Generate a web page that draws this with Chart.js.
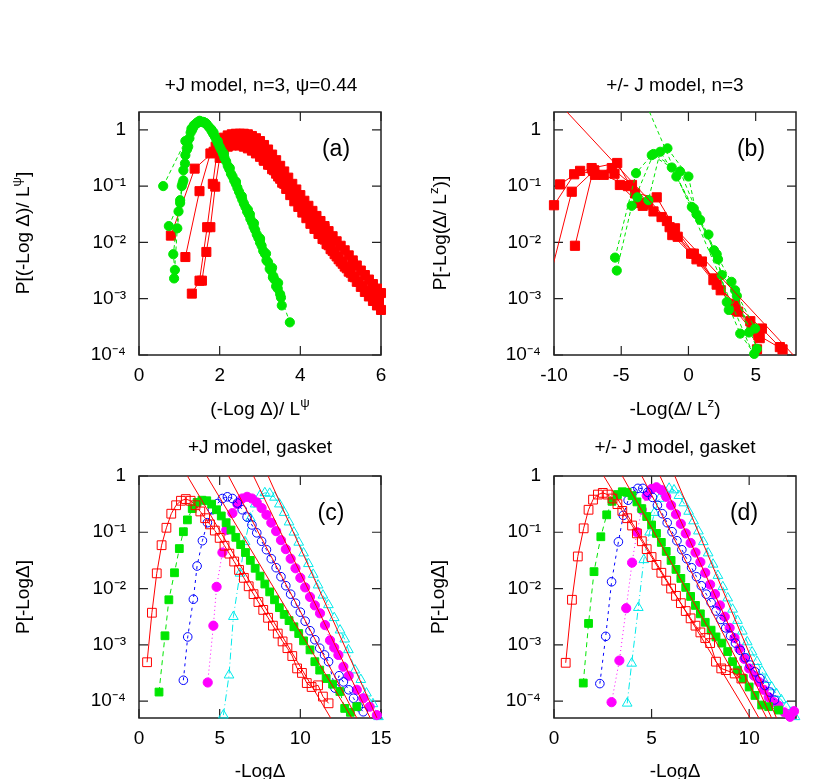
<!DOCTYPE html>
<html>
<head>
<meta charset="utf-8">
<script src="https://cdn.jsdelivr.net/npm/chart.js@4.4.1/dist/chart.umd.min.js"></script>
<style>
body { margin: 0; background: #fff; }
#wrap { position: relative; width: 830px; height: 779px; overflow: hidden; font-family: 'Liberation Sans', Arial, sans-serif; font-size: 19px; color: #000; }
canvas { position: absolute; left: 0; top: 0; }
.lb { position: absolute; white-space: nowrap; transform: translate(-50%, -50%); line-height: 1; }
.lb.yl { transform: translate(-50%, -50%) rotate(-90deg); }
.pn { font-size: 23px; }
sup { font-size: 70%; line-height: 0; }
</style>
</head>
<body>
<div id="wrap">
  <canvas id="ca" width="830" height="779"></canvas>
  <canvas id="cb" width="830" height="779"></canvas>
  <canvas id="cc" width="830" height="779"></canvas>
  <canvas id="cd" width="830" height="779"></canvas>

  <div class="lb" style="left:261px;top:84px">+J model, n=3, ψ=0.44</div>
  <div class="lb" style="left:675px;top:84px">+/- J model, n=3</div>
  <div class="lb" style="left:260px;top:446px">+J model, gasket</div>
  <div class="lb" style="left:675px;top:446px">+/- J model, gasket</div>

  <div class="lb yl" style="left:22px;top:233px">P[(-Log Δ)/ L<sup>ψ</sup>]</div>
  <div class="lb yl" style="left:439px;top:233px">P[-Log(Δ/ L<sup>z</sup>)]</div>
  <div class="lb yl" style="left:22px;top:597px">P[-LogΔ]</div>
  <div class="lb yl" style="left:437px;top:597px">P[-LogΔ]</div>

  <div class="lb" style="left:260px;top:408px">(-Log Δ)/ L<sup>ψ</sup></div>
  <div class="lb" style="left:675px;top:408px">-Log(Δ/ L<sup>z</sup>)</div>
  <div class="lb" style="left:260px;top:770px">-LogΔ</div>
  <div class="lb" style="left:675px;top:770px">-LogΔ</div>

  <div class="lb pn" style="left:336px;top:148px">(a)</div>
  <div class="lb pn" style="left:751px;top:148px">(b)</div>
  <div class="lb pn" style="left:331px;top:512px">(c)</div>
  <div class="lb pn" style="left:744px;top:512px">(d)</div>
</div>
<script>
// valori: [x, log10(P)]

// (a) +J model, n=3
const aGreen1 = [[0.6,-1.0],[1.15,-0.2],[1.3,0.02],[1.45,0.12],[1.6,0.13],[1.85,-0.05],[2.1,-0.42],[2.4,-0.92],[2.75,-1.5],[3.0,-1.95],[3.33,-2.6],[3.74,-3.42]];
const aGreen2 = [[0.74,-1.71],[1.02,-1.25],[1.06,-1.0],[1.1,-0.72],[1.15,-0.45],[1.2,-0.22],[1.28,-0.05],[1.36,0.08],[1.44,0.13],[1.52,0.15],[1.6,0.14],[1.68,0.1],[1.76,0.03],[1.84,-0.07],[1.92,-0.18],[2.0,-0.3],[2.08,-0.42],[2.16,-0.56],[2.24,-0.7],[2.32,-0.83],[2.4,-0.96],[2.48,-1.1],[2.56,-1.24],[2.64,-1.37],[2.72,-1.5],[2.8,-1.64],[2.88,-1.78],[2.96,-1.92],[3.04,-2.06],[3.12,-2.2],[3.2,-2.35],[3.28,-2.5],[3.36,-2.66],[3.44,-2.82],[3.52,-2.98]];
const aGreen3 = [[0.87,-2.64],[0.95,-1.75],[1.02,-1.3],[1.08,-0.95],[1.14,-0.6],[1.19,-0.35],[1.25,-0.15],[1.32,0.0],[1.4,0.1],[1.48,0.14],[1.56,0.14],[1.64,0.12],[1.72,0.06],[1.8,-0.02],[1.88,-0.12],[1.96,-0.24],[2.04,-0.36],[2.12,-0.5],[2.2,-0.64],[2.28,-0.78],[2.36,-0.9],[2.44,-1.03],[2.52,-1.17],[2.6,-1.31],[2.68,-1.45],[2.76,-1.58],[2.84,-1.72],[2.92,-1.86],[3.0,-2.0],[3.08,-2.15],[3.16,-2.32],[3.24,-2.47],[3.32,-2.62],[3.4,-2.78],[3.5,-2.92]];
const aGreen4 = [[0.89,-2.49],[0.85,-2.21],[0.98,-1.45],[1.1,-0.9],[1.22,-0.3],[1.35,0.05],[1.5,0.16],[1.65,0.12],[1.8,0.0],[1.95,-0.2],[2.1,-0.45],[2.25,-0.68],[2.4,-0.93],[2.55,-1.18],[2.7,-1.42],[2.85,-1.66],[3.0,-1.93],[3.15,-2.2],[3.3,-2.45],[3.45,-2.72],[3.54,-3.12]];
const aRed1 = [[0.79,-1.88],[1.38,-0.69],[1.85,-0.39],[2.35,-0.18],[3.09,-0.54],[3.58,-0.9],[4.1,-1.35],[4.6,-1.75],[5.3,-2.38],[5.8,-2.8],[5.95,-2.95]];
const aRed2 = [[1.15,-2.26],[1.5,-1.09],[1.77,-0.42],[1.9,-0.3],[2.0,-0.2],[2.1,-0.14],[2.2,-0.1],[2.3,-0.08],[2.4,-0.07],[2.5,-0.07],[2.6,-0.07],[2.7,-0.08],[2.8,-0.11],[2.9,-0.15],[3.0,-0.2],[3.1,-0.27],[3.2,-0.35],[3.3,-0.44],[3.4,-0.54],[3.5,-0.64],[3.6,-0.74],[3.7,-0.85],[3.8,-0.96],[3.9,-1.06],[4.0,-1.16],[4.1,-1.26],[4.2,-1.35],[4.3,-1.44],[4.4,-1.53],[4.5,-1.62],[4.6,-1.71],[4.7,-1.8],[4.8,-1.89],[4.9,-1.98],[5.0,-2.06],[5.1,-2.14],[5.2,-2.23],[5.3,-2.32],[5.4,-2.41],[5.5,-2.5],[5.6,-2.58],[5.7,-2.66],[5.8,-2.74],[5.9,-2.82],[6.0,-2.9]];
const aRed3 = [[1.31,-2.91],[1.5,-2.68],[1.69,-1.73],[1.83,-0.96],[1.95,-0.32],[2.05,-0.22],[2.15,-0.17],[2.25,-0.15],[2.35,-0.14],[2.45,-0.14],[2.55,-0.15],[2.65,-0.18],[2.75,-0.22],[2.85,-0.28],[2.95,-0.35],[3.05,-0.43],[3.15,-0.52],[3.25,-0.62],[3.35,-0.72],[3.45,-0.83],[3.55,-0.94],[3.65,-1.05],[3.75,-1.16],[3.85,-1.27],[3.95,-1.37],[4.05,-1.47],[4.15,-1.57],[4.25,-1.67],[4.35,-1.76],[4.45,-1.85],[4.55,-1.94],[4.65,-2.03],[4.75,-2.12],[4.85,-2.21],[4.95,-2.3],[5.05,-2.38],[5.15,-2.46],[5.25,-2.54],[5.35,-2.62],[5.45,-2.7],[5.55,-2.78],[5.65,-2.86],[5.75,-2.94],[5.85,-3.02],[5.95,-3.1]];
const aRed4 = [[1.56,-2.68],[1.67,-2.17],[1.77,-1.73],[1.89,-1.01],[2.0,-0.5],[2.1,-0.36],[2.2,-0.3],[2.3,-0.28],[2.4,-0.27],[2.5,-0.28],[2.6,-0.3],[2.7,-0.33],[2.8,-0.37],[2.9,-0.42],[3.0,-0.48],[3.1,-0.55],[3.2,-0.62],[3.3,-0.7],[3.4,-0.78],[3.5,-0.87],[3.6,-0.96],[3.7,-1.05],[3.8,-1.15],[3.9,-1.25],[4.0,-1.35],[4.1,-1.45],[4.2,-1.55],[4.3,-1.65],[4.4,-1.75],[4.5,-1.85],[4.6,-1.95],[4.7,-2.05],[4.8,-2.15],[4.9,-2.25],[5.0,-2.34],[5.1,-2.43],[5.2,-2.52],[5.3,-2.61],[5.4,-2.7],[5.5,-2.79],[5.6,-2.88],[5.7,-2.96],[5.8,-3.04],[5.9,-3.12],[6.0,-3.2]];

// (b) +/- J model, n=3
const bRed1 = [[-10,-1.34],[-8.5,-0.79],[-7.2,-0.68],[-5.3,-0.59],[-3.97,-1.13],[-2.36,-1.2],[-1.0,-1.75],[0.4,-2.2],[1.86,-2.67],[3.47,-3.09],[5.46,-3.53],[6.8,-3.86]];
const bRed2 = [[-9.55,-0.97],[-8.06,-0.73],[-6.95,-0.8],[-5.7,-0.68],[-4.2,-0.98],[-3.0,-1.3],[-1.6,-1.62],[-0.8,-1.9],[1.0,-2.34],[2.1,-2.75],[3.3,-3.15],[4.7,-3.56],[5.3,-3.7]];
const bRed3 = [[-10.6,-2.9],[-8.68,-1.1],[-7.0,-0.72],[-5.5,-0.78],[-5.1,-0.98],[-3.7,-1.3],[-2.0,-1.55],[-1.2,-1.87],[0.6,-2.3],[1.9,-2.64],[3.7,-3.23],[5.2,-3.65],[7.0,-3.9]];
const bRed4 = [[-8.44,-2.06],[-7.1,-0.73],[-6.3,-0.8],[-4.5,-1.0],[-3.4,-1.35],[-2.6,-1.45],[-1.4,-1.73],[0.2,-2.2],[2.4,-2.85],[3.5,-3.2],[4.6,-3.4],[5.1,-3.9]];
const bGreen1 = [[-5.46,-2.27],[-3.9,-0.77],[-2.73,-0.45],[-1.24,-0.67],[0.25,-1.37],[1.49,-1.86],[2.48,-2.58],[3.47,-2.85],[4.96,-3.53]];
const bGreen2 = [[-5.33,-2.5],[-4.22,-1.35],[-2.6,-0.43],[-0.62,-0.74],[0.87,-1.6],[2.1,-2.21],[2.85,-3.06],[3.85,-3.62],[4.89,-3.98]];
const bGreen3 = [[-3.8,-1.2],[-2.98,-1.25],[-2.1,-0.39],[-0.9,-0.83],[0.4,-1.4],[1.9,-2.14],[3.2,-2.7],[5.09,-3.89]];
const bGreen4 = [[-1.56,-0.33],[0,-0.83],[0.6,-1.5],[2.2,-2.3],[3.0,-3.2],[3.6,-2.95],[4.5,-3.6]];
const bRedFit = [[-9.05,0.32],[7.8,-4.0]];
const bGreenFit = [[-2.9,0.32],[4.84,-4.0]];

// (c) +J model, gasket
const cRed = [[0.5,-3.31],[0.8,-2.43],[1.1,-1.73],[1.4,-1.23],[1.7,-0.92],[2.0,-0.67],[2.3,-0.52],[2.6,-0.44],[2.9,-0.41],[3.2,-0.44],[3.5,-0.52],[3.8,-0.63],[4.1,-0.75],[4.4,-0.86],[4.7,-0.97],[5.0,-1.1],[5.3,-1.24],[5.6,-1.38],[5.9,-1.52],[6.2,-1.67],[6.5,-1.81],[6.8,-1.96],[7.1,-2.1],[7.4,-2.24],[7.7,-2.38],[8.0,-2.52],[8.3,-2.66],[8.6,-2.8],[8.9,-2.94],[9.2,-3.06],[9.5,-3.2],[9.8,-3.42],[10.1,-3.5],[10.4,-3.68],[10.7,-3.75],[11.1,-3.72],[11.4,-3.92],[11.75,-4.04]];
const cGreen = [[1.24,-3.84],[1.61,-2.84],[1.85,-2.2],[2.2,-1.72],[2.5,-1.29],[2.75,-0.99],[3.0,-0.78],[3.3,-0.58],[3.6,-0.47],[3.9,-0.43],[4.2,-0.44],[4.5,-0.5],[4.8,-0.6],[5.1,-0.71],[5.4,-0.83],[5.7,-0.96],[6.0,-1.09],[6.3,-1.22],[6.6,-1.36],[6.9,-1.5],[7.2,-1.64],[7.5,-1.78],[7.8,-1.92],[8.1,-2.06],[8.4,-2.2],[8.7,-2.34],[9.0,-2.46],[9.3,-2.57],[9.6,-2.68],[9.9,-2.8],[10.2,-2.93],[10.6,-3.09],[10.9,-3.3],[11.2,-3.45],[11.6,-3.6],[12.0,-3.7],[12.45,-3.83],[12.75,-4.13],[13.1,-4.2],[13.5,-4.1]];
const cBlue = [[2.75,-3.63],[3.02,-2.86],[3.37,-2.19],[3.6,-1.6],[3.93,-1.15],[4.24,-0.83],[4.55,-0.6],[4.86,-0.49],[5.17,-0.4],[5.48,-0.37],[5.79,-0.4],[6.1,-0.48],[6.4,-0.6],[6.7,-0.73],[7.0,-0.87],[7.3,-1.01],[7.6,-1.16],[7.9,-1.31],[8.2,-1.47],[8.5,-1.63],[8.8,-1.79],[9.1,-1.95],[9.4,-2.1],[9.7,-2.26],[10.0,-2.42],[10.3,-2.58],[10.6,-2.75],[10.9,-2.91],[11.2,-3.06],[11.5,-3.18],[11.75,-3.3],[12.15,-3.77],[12.4,-3.55],[12.67,-3.66],[13.0,-3.8],[13.3,-3.95],[13.6,-4.1],[13.9,-4.19]];
const cMagenta = [[4.26,-3.67],[4.61,-2.66],[4.81,-1.97],[5.17,-1.36],[5.41,-0.96],[5.79,-0.66],[6.1,-0.5],[6.4,-0.4],[6.7,-0.37],[7.0,-0.4],[7.3,-0.47],[7.6,-0.57],[7.9,-0.69],[8.2,-0.83],[8.5,-0.98],[8.8,-1.14],[9.1,-1.3],[9.4,-1.47],[9.7,-1.64],[10.0,-1.81],[10.3,-1.98],[10.6,-2.15],[10.9,-2.3],[11.22,-2.44],[11.53,-2.65],[11.84,-2.92],[12.1,-3.05],[12.36,-3.18],[12.67,-3.39],[13.0,-3.55],[13.5,-3.8],[13.9,-3.95],[14.3,-4.1],[14.74,-4.25]];
const cCyan = [[5.23,-4.25],[5.58,-3.54],[5.85,-2.5],[6.26,-1.73],[6.57,-1.17],[6.9,-0.75],[7.2,-0.5],[7.5,-0.35],[7.8,-0.3],[8.1,-0.31],[8.4,-0.38],[8.7,-0.5],[9.0,-0.65],[9.3,-0.82],[9.6,-1.0],[9.9,-1.18],[10.2,-1.37],[10.5,-1.56],[10.8,-1.75],[11.1,-1.94],[11.4,-2.12],[11.74,-2.29],[12.1,-2.52],[12.46,-2.74],[12.75,-2.9],[12.98,-3.09],[13.39,-3.45],[13.75,-3.62],[14.1,-3.86],[14.5,-4.05],[14.84,-4.28]];
const cFitTop = [3.0, 4.2, 5.55, 7.1, 8.0];
const cFitEnd = [11.88, 13.19, 13.5, 14.33, 14.75];

// (d) +/- J model, gasket
const dRed = [[0.6,-3.32],[0.92,-2.2],[1.22,-1.43],[1.52,-0.93],[1.77,-0.6],[2.0,-0.42],[2.25,-0.33],[2.5,-0.3],[2.75,-0.33],[3.0,-0.4],[3.25,-0.5],[3.5,-0.62],[3.75,-0.75],[4.0,-0.88],[4.25,-1.02],[4.5,-1.16],[4.75,-1.3],[5.0,-1.44],[5.25,-1.58],[5.5,-1.72],[5.75,-1.86],[6.0,-2.0],[6.25,-2.13],[6.5,-2.26],[6.75,-2.4],[7.0,-2.53],[7.25,-2.66],[7.5,-2.78],[7.75,-2.88],[8.0,-2.97],[8.3,-3.3],[8.57,-3.42],[8.8,-3.45],[9.26,-3.51],[9.6,-3.6]];
const dGreen = [[1.5,-3.68],[1.77,-2.62],[2.05,-1.7],[2.4,-1.08],[2.7,-0.69],[2.97,-0.45],[3.25,-0.33],[3.5,-0.28],[3.75,-0.29],[4.0,-0.35],[4.25,-0.46],[4.5,-0.58],[4.75,-0.72],[5.0,-0.87],[5.25,-1.02],[5.5,-1.18],[5.75,-1.34],[6.0,-1.5],[6.25,-1.66],[6.5,-1.82],[6.75,-1.98],[7.0,-2.14],[7.25,-2.3],[7.5,-2.45],[7.75,-2.6],[8.05,-2.74],[8.3,-2.86],[8.6,-2.97],[8.9,-3.12],[9.15,-3.3],[9.4,-3.45],[9.7,-3.6],[10.0,-3.75],[10.3,-3.9],[10.64,-4.07],[11.0,-4.1],[11.5,-4.16]];
const dBlue = [[2.35,-3.69],[2.65,-2.85],[2.95,-1.88],[3.3,-1.17],[3.55,-0.7],[3.8,-0.43],[4.05,-0.28],[4.3,-0.22],[4.55,-0.22],[4.8,-0.29],[5.05,-0.38],[5.3,-0.52],[5.55,-0.67],[5.8,-0.83],[6.05,-0.99],[6.3,-1.15],[6.55,-1.31],[6.8,-1.47],[7.05,-1.63],[7.3,-1.79],[7.55,-1.95],[7.8,-2.1],[8.05,-2.25],[8.3,-2.4],[8.55,-2.55],[8.8,-2.7],[9.05,-2.84],[9.3,-2.97],[9.55,-3.1],[9.8,-3.23],[10.05,-3.36],[10.3,-3.48],[10.55,-3.6],[10.8,-3.72],[11.05,-3.84],[11.3,-3.98]];
const dMagenta = [[2.95,-4.02],[3.35,-3.28],[3.7,-2.35],[4.0,-1.54],[4.25,-1.0],[4.5,-0.6],[4.75,-0.35],[5.0,-0.23],[5.25,-0.2],[5.5,-0.25],[5.75,-0.37],[6.0,-0.52],[6.25,-0.68],[6.5,-0.85],[6.75,-1.02],[7.0,-1.19],[7.25,-1.36],[7.5,-1.53],[7.75,-1.72],[8.0,-1.93],[8.25,-2.1],[8.5,-2.3],[8.75,-2.5],[9.0,-2.7],[9.25,-2.88],[9.5,-3.07],[9.75,-3.25],[10.0,-3.42],[10.25,-3.55],[10.5,-3.66],[10.75,-3.8],[11.0,-3.93],[11.25,-4.02],[11.5,-4.08],[11.8,-4.2],[12.1,-4.28],[12.3,-4.18]];
const dCyan = [[3.75,-4.04],[3.98,-3.33],[4.32,-2.34],[4.6,-1.49],[4.9,-1.0],[5.15,-0.65],[5.4,-0.4],[5.65,-0.27],[5.9,-0.22],[6.15,-0.25],[6.4,-0.35],[6.65,-0.48],[6.9,-0.63],[7.15,-0.8],[7.4,-0.98],[7.65,-1.17],[7.9,-1.37],[8.15,-1.57],[8.4,-1.77],[8.65,-1.97],[8.9,-2.17],[9.15,-2.37],[9.4,-2.57],[9.65,-2.76],[9.9,-2.95],[10.15,-3.13],[10.4,-3.3],[10.65,-3.47],[10.9,-3.62],[11.15,-3.75],[11.4,-3.87],[11.65,-3.98],[11.9,-4.1],[12.15,-4.2],[12.35,-4.28]];
const dFitTop = [2.55, 3.5, 4.5, 5.43, 6.19];
const dFitEnd = [10.05, 10.5, 10.9, 11.15, 11.4];

// assi
const xTicksA = [0, 2, 4, 6];
const xTicksB = [-10, -5, 0, 5];
const xTicksC = [0, 5, 10, 15];
const xTicksD = [0, 5, 10];
const yTicks = [1e-4, 1e-3, 1e-2, 1e-1, 1];

const W = 830, H = 779;
const RED = '#ff0000', GREEN = '#00e600', BLUE = '#0000ff', MAGENTA = '#ff00ff', CYAN = '#00eaea';

Chart.defaults.font.family = "'Liberation Sans', Arial, sans-serif";
Chart.defaults.font.size = 19;

const SUP = { '-': '⁻', '0': '⁰', '1': '¹', '2': '²', '3': '³', '4': '⁴', '5': '⁵' };
function expLabel(v) {
    const e = Math.round(Math.log10(v));
    if (e === 0) return '1';
    return '10' + String(e).split('').map(c => SUP[c]).join('');
}

const toPts = arr => arr.map(([x, lg]) => ({ x: x, y: Math.pow(10, lg) }));

function marks(arr, color, style, r, filled, dash, clip) {
    return {
        data: toPts(arr),
        borderColor: color,
        borderWidth: 1,
        borderDash: dash || [],
        pointStyle: style,
        pointRadius: r,
        pointHoverRadius: r,
        pointBackgroundColor: filled ? color : 'rgba(0,0,0,0)',
        pointBorderColor: color,
        pointBorderWidth: 1,
        tension: 0,
        fill: false,
        clip: clip === undefined ? 7 : clip
    };
}

function fitLine(arr, color, dash) {
    return {
        data: toPts(arr),
        borderColor: color,
        borderWidth: 1,
        borderDash: dash || [],
        pointRadius: 0,
        tension: 0,
        fill: false,
        clip: 0
    };
}

// cornice e tacche interne come in gnuplot
const frame = {
    id: 'frame',
    beforeDatasetsDraw(chart) {
        const { ctx, chartArea: a, scales: { x, y } } = chart;
        ctx.save();
        ctx.strokeStyle = '#222';
        ctx.lineWidth = 1.5;
        ctx.strokeRect(a.left, a.top, a.right - a.left, a.bottom - a.top);
        ctx.lineWidth = 1.2;
        ctx.beginPath();
        x.ticks.forEach(t => {
            const px = x.getPixelForValue(t.value);
            ctx.moveTo(px, a.bottom); ctx.lineTo(px, a.bottom - 9);
            ctx.moveTo(px, a.top); ctx.lineTo(px, a.top + 9);
        });
        y.ticks.forEach(t => {
            const py = y.getPixelForValue(t.value);
            ctx.moveTo(a.left, py); ctx.lineTo(a.left + 9, py);
            ctx.moveTo(a.right, py); ctx.lineTo(a.right - 9, py);
        });
        ctx.stroke();
        ctx.restore();
    }
};

function panel(id, box, xr, xt, yr, datasets) {
    new Chart(document.getElementById(id), {
        type: 'line',
        data: { datasets: datasets },
        options: {
            responsive: false,
            animation: false,
            devicePixelRatio: 1,
            layout: { padding: { left: box.l - 60, right: W - box.r, top: box.t, bottom: H - box.b - 40 } },
            plugins: { legend: { display: false }, tooltip: { enabled: false } },
            scales: {
                x: {
                    type: 'linear', min: xr[0], max: xr[1],
                    grid: { display: false, drawTicks: false }, border: { display: false },
                    afterBuildTicks: s => { s.ticks = xt.map(v => ({ value: v })); },
                    afterFit: s => { s.height = 40; },
                    ticks: { color: '#000', padding: 9, maxRotation: 0, autoSkip: false, callback: v => String(v) }
                },
                y: {
                    type: 'logarithmic', min: yr[0], max: yr[1],
                    grid: { display: false, drawTicks: false }, border: { display: false },
                    afterBuildTicks: s => { s.ticks = yTicks.map(v => ({ value: v })); },
                    afterFit: s => { s.width = 60; },
                    ticks: { color: '#000', padding: 13, autoSkip: false, callback: v => expLabel(v) }
                }
            }
        },
        plugins: [frame]
    });
}

const DASH = [4, 3];

panel('ca', { l: 139, r: 381, t: 112, b: 355 }, [0, 6], xTicksA, [1e-4, 2.07], [
    marks(aGreen1, GREEN, 'circle', 4.6, true, DASH),
    marks(aGreen2, GREEN, 'circle', 4.6, true, DASH),
    marks(aGreen3, GREEN, 'circle', 4.6, true, DASH),
    marks(aGreen4, GREEN, 'circle', 4.6, true, DASH),
    marks(aRed1, RED, 'rect', 6.4, true),
    marks(aRed2, RED, 'rect', 6.4, true),
    marks(aRed3, RED, 'rect', 6.4, true),
    marks(aRed4, RED, 'rect', 6.4, true)
]);

panel('cb', { l: 554, r: 796, t: 112, b: 355 }, [-10, 8], xTicksB, [1e-4, 2.07], [
    fitLine(bGreenFit, GREEN, DASH),
    fitLine(bRedFit, RED),
    marks(bGreen1, GREEN, 'circle', 4.6, true, DASH),
    marks(bGreen2, GREEN, 'circle', 4.6, true, DASH),
    marks(bGreen3, GREEN, 'circle', 4.6, true, DASH),
    marks(bGreen4, GREEN, 'circle', 4.6, true, DASH),
    marks(bRed1, RED, 'rect', 6.5, true),
    marks(bRed2, RED, 'rect', 6.5, true),
    marks(bRed3, RED, 'rect', 6.5, true, null, 0),
    marks(bRed4, RED, 'rect', 6.5, true)
]);

function gasket(top, end, r, g, b, m, c) {
    const fits = top.map((x0, i) => fitLine([[x0, 0], [end[i], -4.301]], RED));
    return fits.concat([
        marks(r, RED, 'rect', 6.2, false),
        marks(g, GREEN, 'rect', 5.5, true, [5, 4]),
        marks(b, BLUE, 'circle', 4.3, false, [3, 4]),
        marks(m, MAGENTA, 'circle', 4.6, true, [1, 3]),
        marks(c, CYAN, 'triangle', 5.6, false, [7, 3, 1, 3])
    ]);
}

panel('cc', { l: 139, r: 381, t: 476, b: 718 }, [0, 15], xTicksC, [5e-5, 1],
    gasket(cFitTop, cFitEnd, cRed, cGreen, cBlue, cMagenta, cCyan));

panel('cd', { l: 554, r: 796, t: 476, b: 718 }, [0, 12.4], xTicksD, [5e-5, 1],
    gasket(dFitTop, dFitEnd, dRed, dGreen, dBlue, dMagenta, dCyan));
</script>
</body>
</html>
